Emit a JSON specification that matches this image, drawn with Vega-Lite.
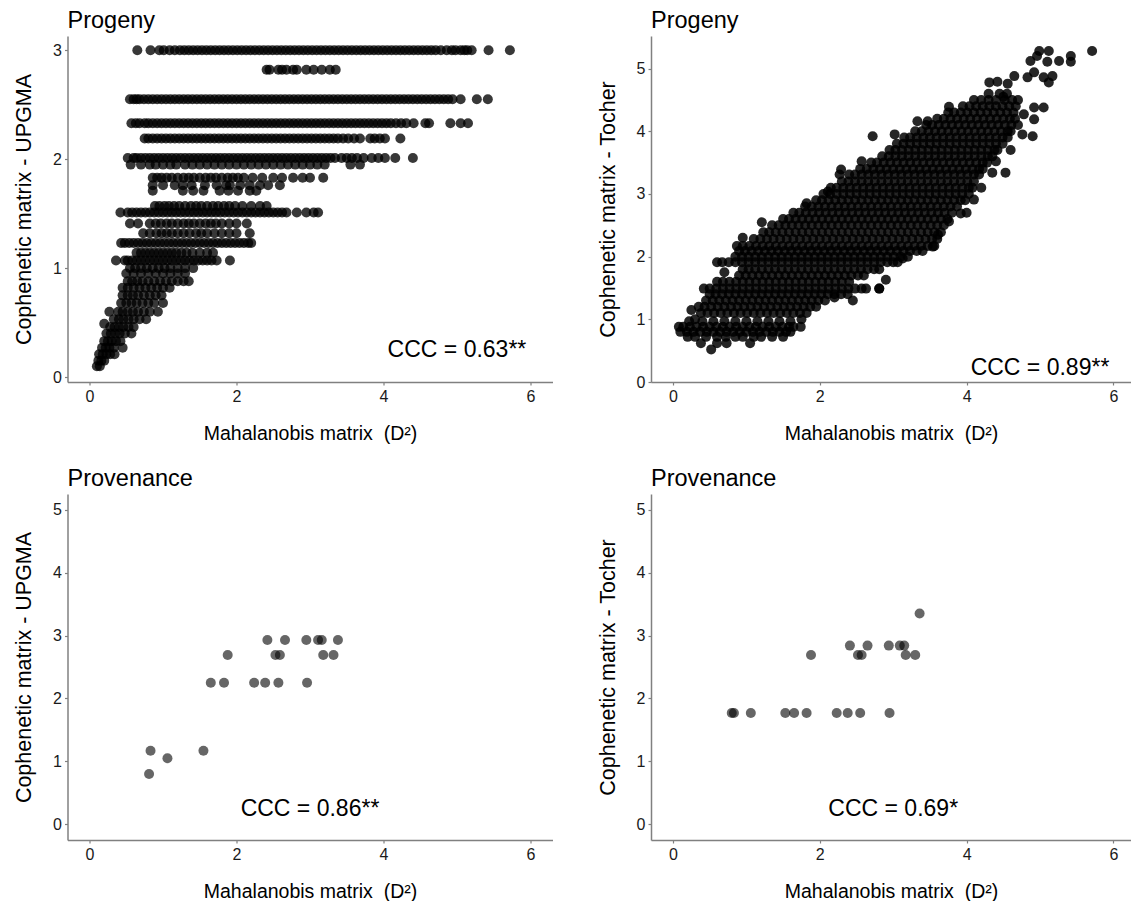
{
"$schema": "https://vega.github.io/schema/vega-lite/v6.json",
"background": "white",
"padding": {"left": 13.5, "top": 8, "right": 0, "bottom": 0},
"config": {
 "view": {"stroke": null},
 "font": "Liberation Sans",
 "axis": {"grid": false, "format": "d", "domainColor": "#808080", "domainWidth": 1.5, "tickColor": "#808080", "tickSize": 3, "tickWidth": 1.2, "labelFont": "Liberation Sans", "labelFontSize": 16, "labelColor": "#1a1a1a", "labelPadding": 3, "labelFlush": false, "labelOverlap": false, "titleFont": "Liberation Sans", "titleFontWeight": "normal", "titleColor": "black"},
 "axisX": {"titleFontSize": 19.5, "titlePadding": 20},
 "axisY": {"titleFontSize": 21.5, "titlePadding": 17},
 "title": {"font": "Liberation Sans", "fontSize": 23.5, "fontWeight": "normal", "anchor": "start", "frame": "group", "color": "black", "offset": 4, "baseline": "alphabetic"},
 "circle": {"size": 100, "color": "black", "opacity": 0.6},
 "text": {"font": "Liberation Sans", "fontSize": 23, "color": "black", "align": "center", "baseline": "middle"}
},
"datasets": {
"p1": [
{"x":0.65,"y":3},{"x":0.83,"y":3},{"x":0.95,"y":3},{"x":1.01,"y":3},{"x":1.09,"y":3},{"x":1.16,"y":3},{"x":1.23,"y":3},{"x":1.29,"y":3},{"x":1.35,"y":3},{"x":1.41,"y":3},{"x":1.47,"y":3},{"x":1.53,"y":3},{"x":1.59,"y":3},{"x":1.65,"y":3},{"x":1.71,"y":3},{"x":1.77,"y":3},{"x":1.83,"y":3},{"x":1.89,"y":3},{"x":1.95,"y":3},{"x":2.01,"y":3},{"x":2.07,"y":3},{"x":2.13,"y":3},{"x":2.19,"y":3},{"x":2.25,"y":3},{"x":2.31,"y":3},{"x":2.37,"y":3},{"x":2.43,"y":3},{"x":2.49,"y":3},{"x":2.55,"y":3},{"x":2.61,"y":3},{"x":2.67,"y":3},{"x":2.73,"y":3},{"x":2.79,"y":3},{"x":2.85,"y":3},{"x":2.91,"y":3},{"x":2.97,"y":3},{"x":3.03,"y":3},{"x":3.09,"y":3},{"x":3.15,"y":3},{"x":3.21,"y":3},{"x":3.27,"y":3},{"x":3.33,"y":3},{"x":3.39,"y":3},{"x":3.45,"y":3},{"x":3.51,"y":3},{"x":3.57,"y":3},{"x":3.63,"y":3},{"x":3.69,"y":3},{"x":3.75,"y":3},{"x":3.81,"y":3},{"x":3.87,"y":3},{"x":3.93,"y":3},{"x":3.99,"y":3},{"x":4.05,"y":3},{"x":4.11,"y":3},{"x":4.17,"y":3},{"x":4.23,"y":3},{"x":4.29,"y":3},{"x":4.35,"y":3},{"x":4.41,"y":3},{"x":4.47,"y":3},{"x":4.53,"y":3},{"x":4.59,"y":3},{"x":4.65,"y":3},{"x":4.71,"y":3},{"x":4.78,"y":3},{"x":4.86,"y":3},{"x":4.93,"y":3},{"x":4.98,"y":3},{"x":5.05,"y":3},{"x":5.1,"y":3},{"x":5.14,"y":3},{"x":5.2,"y":3},{"x":5.43,"y":3},{"x":5.72,"y":3},
{"x":2.41,"y":2.82},{"x":2.45,"y":2.82},{"x":2.57,"y":2.82},{"x":2.62,"y":2.82},{"x":2.68,"y":2.82},{"x":2.77,"y":2.82},{"x":2.82,"y":2.82},{"x":2.95,"y":2.82},{"x":3.05,"y":2.82},{"x":3.16,"y":2.82},{"x":3.27,"y":2.82},{"x":3.35,"y":2.82},
{"x":0.55,"y":2.55},{"x":0.6,"y":2.55},{"x":0.64,"y":2.55},{"x":0.68,"y":2.55},{"x":0.74,"y":2.55},{"x":0.8,"y":2.55},{"x":0.86,"y":2.55},{"x":0.92,"y":2.55},{"x":0.98,"y":2.55},{"x":1.04,"y":2.55},{"x":1.1,"y":2.55},{"x":1.16,"y":2.55},{"x":1.22,"y":2.55},{"x":1.28,"y":2.55},{"x":1.34,"y":2.55},{"x":1.4,"y":2.55},{"x":1.46,"y":2.55},{"x":1.52,"y":2.55},{"x":1.58,"y":2.55},{"x":1.64,"y":2.55},{"x":1.7,"y":2.55},{"x":1.76,"y":2.55},{"x":1.82,"y":2.55},{"x":1.88,"y":2.55},{"x":1.94,"y":2.55},{"x":2,"y":2.55},{"x":2.06,"y":2.55},{"x":2.12,"y":2.55},{"x":2.18,"y":2.55},{"x":2.24,"y":2.55},{"x":2.3,"y":2.55},{"x":2.36,"y":2.55},{"x":2.42,"y":2.55},{"x":2.48,"y":2.55},{"x":2.54,"y":2.55},{"x":2.6,"y":2.55},{"x":2.66,"y":2.55},{"x":2.72,"y":2.55},{"x":2.78,"y":2.55},{"x":2.84,"y":2.55},{"x":2.9,"y":2.55},{"x":2.96,"y":2.55},{"x":3.02,"y":2.55},{"x":3.08,"y":2.55},{"x":3.14,"y":2.55},{"x":3.2,"y":2.55},{"x":3.26,"y":2.55},{"x":3.32,"y":2.55},{"x":3.38,"y":2.55},{"x":3.44,"y":2.55},{"x":3.5,"y":2.55},{"x":3.56,"y":2.55},{"x":3.62,"y":2.55},{"x":3.68,"y":2.55},{"x":3.74,"y":2.55},{"x":3.8,"y":2.55},{"x":3.86,"y":2.55},{"x":3.92,"y":2.55},{"x":3.98,"y":2.55},{"x":4.04,"y":2.55},{"x":4.1,"y":2.55},{"x":4.16,"y":2.55},{"x":4.22,"y":2.55},{"x":4.28,"y":2.55},{"x":4.34,"y":2.55},{"x":4.4,"y":2.55},{"x":4.46,"y":2.55},{"x":4.52,"y":2.55},{"x":4.58,"y":2.55},{"x":4.64,"y":2.55},{"x":4.7,"y":2.55},{"x":4.76,"y":2.55},{"x":4.82,"y":2.55},{"x":4.88,"y":2.55},{"x":4.94,"y":2.55},{"x":5.05,"y":2.55},{"x":5.27,"y":2.55},{"x":5.42,"y":2.55},
{"x":0.57,"y":2.33},{"x":0.63,"y":2.33},{"x":0.68,"y":2.33},{"x":0.75,"y":2.33},{"x":0.8,"y":2.33},{"x":0.86,"y":2.33},{"x":0.92,"y":2.33},{"x":0.98,"y":2.33},{"x":1.04,"y":2.33},{"x":1.1,"y":2.33},{"x":1.16,"y":2.33},{"x":1.22,"y":2.33},{"x":1.28,"y":2.33},{"x":1.34,"y":2.33},{"x":1.4,"y":2.33},{"x":1.46,"y":2.33},{"x":1.52,"y":2.33},{"x":1.58,"y":2.33},{"x":1.64,"y":2.33},{"x":1.7,"y":2.33},{"x":1.76,"y":2.33},{"x":1.82,"y":2.33},{"x":1.88,"y":2.33},{"x":1.94,"y":2.33},{"x":2,"y":2.33},{"x":2.06,"y":2.33},{"x":2.12,"y":2.33},{"x":2.18,"y":2.33},{"x":2.24,"y":2.33},{"x":2.3,"y":2.33},{"x":2.36,"y":2.33},{"x":2.42,"y":2.33},{"x":2.48,"y":2.33},{"x":2.54,"y":2.33},{"x":2.6,"y":2.33},{"x":2.66,"y":2.33},{"x":2.72,"y":2.33},{"x":2.78,"y":2.33},{"x":2.84,"y":2.33},{"x":2.9,"y":2.33},{"x":2.96,"y":2.33},{"x":3.02,"y":2.33},{"x":3.08,"y":2.33},{"x":3.14,"y":2.33},{"x":3.2,"y":2.33},{"x":3.26,"y":2.33},{"x":3.32,"y":2.33},{"x":3.38,"y":2.33},{"x":3.44,"y":2.33},{"x":3.5,"y":2.33},{"x":3.56,"y":2.33},{"x":3.62,"y":2.33},{"x":3.68,"y":2.33},{"x":3.74,"y":2.33},{"x":3.8,"y":2.33},{"x":3.86,"y":2.33},{"x":3.92,"y":2.33},{"x":3.98,"y":2.33},{"x":4.04,"y":2.33},{"x":4.1,"y":2.33},{"x":4.17,"y":2.33},{"x":4.24,"y":2.33},{"x":4.31,"y":2.33},{"x":4.41,"y":2.33},{"x":4.57,"y":2.33},{"x":4.62,"y":2.33},{"x":4.91,"y":2.33},{"x":5.05,"y":2.33},{"x":5.15,"y":2.33},
{"x":0.75,"y":2.19},{"x":0.8,"y":2.19},{"x":0.86,"y":2.19},{"x":0.92,"y":2.19},{"x":0.98,"y":2.19},{"x":1.04,"y":2.19},{"x":1.1,"y":2.19},{"x":1.16,"y":2.19},{"x":1.22,"y":2.19},{"x":1.28,"y":2.19},{"x":1.34,"y":2.19},{"x":1.4,"y":2.19},{"x":1.46,"y":2.19},{"x":1.52,"y":2.19},{"x":1.58,"y":2.19},{"x":1.64,"y":2.19},{"x":1.7,"y":2.19},{"x":1.76,"y":2.19},{"x":1.82,"y":2.19},{"x":1.88,"y":2.19},{"x":1.94,"y":2.19},{"x":2,"y":2.19},{"x":2.06,"y":2.19},{"x":2.12,"y":2.19},{"x":2.18,"y":2.19},{"x":2.24,"y":2.19},{"x":2.3,"y":2.19},{"x":2.36,"y":2.19},{"x":2.42,"y":2.19},{"x":2.48,"y":2.19},{"x":2.54,"y":2.19},{"x":2.6,"y":2.19},{"x":2.66,"y":2.19},{"x":2.72,"y":2.19},{"x":2.78,"y":2.19},{"x":2.84,"y":2.19},{"x":2.9,"y":2.19},{"x":2.96,"y":2.19},{"x":3.02,"y":2.19},{"x":3.08,"y":2.19},{"x":3.14,"y":2.19},{"x":3.2,"y":2.19},{"x":3.26,"y":2.19},{"x":3.32,"y":2.19},{"x":3.38,"y":2.19},{"x":3.45,"y":2.19},{"x":3.52,"y":2.19},{"x":3.6,"y":2.19},{"x":3.68,"y":2.19},{"x":3.82,"y":2.19},{"x":3.88,"y":2.19},{"x":3.95,"y":2.19},{"x":4.02,"y":2.19},{"x":4.23,"y":2.19},
{"x":0.52,"y":2.01},{"x":0.6,"y":2.01},{"x":0.64,"y":2.01},{"x":0.7,"y":2.01},{"x":0.76,"y":2.01},{"x":0.82,"y":2.01},{"x":0.88,"y":2.01},{"x":0.94,"y":2.01},{"x":1,"y":2.01},{"x":1.06,"y":2.01},{"x":1.12,"y":2.01},{"x":1.18,"y":2.01},{"x":1.24,"y":2.01},{"x":1.3,"y":2.01},{"x":1.36,"y":2.01},{"x":1.42,"y":2.01},{"x":1.48,"y":2.01},{"x":1.54,"y":2.01},{"x":1.6,"y":2.01},{"x":1.66,"y":2.01},{"x":1.72,"y":2.01},{"x":1.78,"y":2.01},{"x":1.84,"y":2.01},{"x":1.9,"y":2.01},{"x":1.96,"y":2.01},{"x":2.02,"y":2.01},{"x":2.08,"y":2.01},{"x":2.14,"y":2.01},{"x":2.2,"y":2.01},{"x":2.26,"y":2.01},{"x":2.32,"y":2.01},{"x":2.38,"y":2.01},{"x":2.44,"y":2.01},{"x":2.5,"y":2.01},{"x":2.56,"y":2.01},{"x":2.62,"y":2.01},{"x":2.68,"y":2.01},{"x":2.74,"y":2.01},{"x":2.8,"y":2.01},{"x":2.86,"y":2.01},{"x":2.92,"y":2.01},{"x":2.98,"y":2.01},{"x":3.04,"y":2.01},{"x":3.1,"y":2.01},{"x":3.16,"y":2.01},{"x":3.22,"y":2.01},{"x":3.28,"y":2.01},{"x":3.34,"y":2.01},{"x":3.43,"y":2.01},{"x":3.5,"y":2.01},{"x":3.57,"y":2.01},{"x":3.64,"y":2.01},{"x":3.73,"y":2.01},{"x":3.84,"y":2.01},{"x":3.93,"y":2.01},{"x":4.02,"y":2.01},{"x":4.16,"y":2.01},{"x":4.4,"y":2.01},
{"x":0.56,"y":1.95},{"x":0.7,"y":1.95},{"x":0.82,"y":1.95},{"x":0.9,"y":1.95},{"x":1,"y":1.95},{"x":1.1,"y":1.95},{"x":1.18,"y":1.95},{"x":1.3,"y":1.95},{"x":1.4,"y":1.95},{"x":1.5,"y":1.95},{"x":1.6,"y":1.95},{"x":1.7,"y":1.95},{"x":1.8,"y":1.95},{"x":1.9,"y":1.95},{"x":2,"y":1.95},{"x":2.1,"y":1.95},{"x":2.2,"y":1.95},{"x":2.3,"y":1.95},{"x":2.4,"y":1.95},{"x":2.5,"y":1.95},{"x":2.6,"y":1.95},{"x":2.7,"y":1.95},{"x":2.8,"y":1.95},{"x":2.9,"y":1.95},{"x":3,"y":1.95},{"x":3.1,"y":1.95},{"x":3.2,"y":1.95},{"x":3.55,"y":1.95},{"x":3.68,"y":1.95},
{"x":0.86,"y":1.83},{"x":0.92,"y":1.83},{"x":0.98,"y":1.83},{"x":1.05,"y":1.83},{"x":1.12,"y":1.83},{"x":1.2,"y":1.83},{"x":1.28,"y":1.83},{"x":1.35,"y":1.83},{"x":1.42,"y":1.83},{"x":1.5,"y":1.83},{"x":1.58,"y":1.83},{"x":1.65,"y":1.83},{"x":1.72,"y":1.83},{"x":1.8,"y":1.83},{"x":1.88,"y":1.83},{"x":1.95,"y":1.83},{"x":2.02,"y":1.83},{"x":2.1,"y":1.83},{"x":2.22,"y":1.83},{"x":2.35,"y":1.83},{"x":2.5,"y":1.83},{"x":2.62,"y":1.83},{"x":2.77,"y":1.83},{"x":2.9,"y":1.83},{"x":3,"y":1.83},{"x":3.18,"y":1.83},
{"x":0.86,"y":1.76},{"x":1,"y":1.76},{"x":1.16,"y":1.76},{"x":1.27,"y":1.76},{"x":1.39,"y":1.76},{"x":1.57,"y":1.76},{"x":1.73,"y":1.76},{"x":1.86,"y":1.76},{"x":1.91,"y":1.76},{"x":2.05,"y":1.76},{"x":2.18,"y":1.76},{"x":2.32,"y":1.76},{"x":2.43,"y":1.76},{"x":2.59,"y":1.76},
{"x":0.86,"y":1.71},{"x":1.27,"y":1.71},{"x":1.41,"y":1.71},{"x":1.55,"y":1.71},{"x":1.77,"y":1.71},{"x":1.89,"y":1.71},{"x":2.02,"y":1.71},{"x":2.18,"y":1.71},{"x":2.27,"y":1.71},
{"x":0.89,"y":1.57},{"x":0.95,"y":1.57},{"x":1.02,"y":1.57},{"x":1.08,"y":1.57},{"x":1.15,"y":1.57},{"x":1.22,"y":1.57},{"x":1.3,"y":1.57},{"x":1.38,"y":1.57},{"x":1.45,"y":1.57},{"x":1.52,"y":1.57},{"x":1.6,"y":1.57},{"x":1.68,"y":1.57},{"x":1.75,"y":1.57},{"x":1.83,"y":1.57},{"x":1.9,"y":1.57},{"x":1.98,"y":1.57},{"x":2.08,"y":1.57},{"x":2.2,"y":1.57},{"x":2.32,"y":1.57},{"x":2.41,"y":1.57},
{"x":0.42,"y":1.51},{"x":0.52,"y":1.51},{"x":0.58,"y":1.51},{"x":0.64,"y":1.51},{"x":0.7,"y":1.51},{"x":0.76,"y":1.51},{"x":0.82,"y":1.51},{"x":0.88,"y":1.51},{"x":0.94,"y":1.51},{"x":1,"y":1.51},{"x":1.06,"y":1.51},{"x":1.12,"y":1.51},{"x":1.18,"y":1.51},{"x":1.24,"y":1.51},{"x":1.3,"y":1.51},{"x":1.36,"y":1.51},{"x":1.42,"y":1.51},{"x":1.48,"y":1.51},{"x":1.54,"y":1.51},{"x":1.6,"y":1.51},{"x":1.66,"y":1.51},{"x":1.72,"y":1.51},{"x":1.78,"y":1.51},{"x":1.84,"y":1.51},{"x":1.9,"y":1.51},{"x":1.96,"y":1.51},{"x":2.02,"y":1.51},{"x":2.08,"y":1.51},{"x":2.14,"y":1.51},{"x":2.2,"y":1.51},{"x":2.26,"y":1.51},{"x":2.32,"y":1.51},{"x":2.38,"y":1.51},{"x":2.44,"y":1.51},{"x":2.5,"y":1.51},{"x":2.56,"y":1.51},{"x":2.62,"y":1.51},{"x":2.68,"y":1.51},{"x":2.82,"y":1.51},{"x":2.95,"y":1.51},{"x":3.05,"y":1.51},{"x":3.11,"y":1.51},
{"x":0.55,"y":1.41},{"x":0.66,"y":1.41},{"x":0.82,"y":1.41},{"x":0.9,"y":1.41},{"x":0.97,"y":1.41},{"x":1.05,"y":1.41},{"x":1.12,"y":1.41},{"x":1.2,"y":1.41},{"x":1.28,"y":1.41},{"x":1.35,"y":1.41},{"x":1.42,"y":1.41},{"x":1.5,"y":1.41},{"x":1.58,"y":1.41},{"x":1.65,"y":1.41},{"x":1.72,"y":1.41},{"x":1.8,"y":1.41},{"x":1.9,"y":1.41},{"x":2,"y":1.41},{"x":2.14,"y":1.41},
{"x":0.73,"y":1.32},{"x":0.82,"y":1.32},{"x":0.91,"y":1.32},{"x":0.98,"y":1.32},{"x":1.05,"y":1.32},{"x":1.12,"y":1.32},{"x":1.2,"y":1.32},{"x":1.28,"y":1.32},{"x":1.36,"y":1.32},{"x":1.45,"y":1.32},{"x":1.52,"y":1.32},{"x":1.6,"y":1.32},{"x":1.7,"y":1.32},{"x":1.8,"y":1.32},{"x":1.9,"y":1.32},{"x":2,"y":1.32},{"x":2.18,"y":1.32},
{"x":0.43,"y":1.23},{"x":0.48,"y":1.23},{"x":0.54,"y":1.23},{"x":0.6,"y":1.23},{"x":0.66,"y":1.23},{"x":0.72,"y":1.23},{"x":0.78,"y":1.23},{"x":0.84,"y":1.23},{"x":0.9,"y":1.23},{"x":0.96,"y":1.23},{"x":1.02,"y":1.23},{"x":1.08,"y":1.23},{"x":1.14,"y":1.23},{"x":1.2,"y":1.23},{"x":1.26,"y":1.23},{"x":1.32,"y":1.23},{"x":1.38,"y":1.23},{"x":1.44,"y":1.23},{"x":1.5,"y":1.23},{"x":1.56,"y":1.23},{"x":1.62,"y":1.23},{"x":1.68,"y":1.23},{"x":1.74,"y":1.23},{"x":1.8,"y":1.23},{"x":1.86,"y":1.23},{"x":1.92,"y":1.23},{"x":1.98,"y":1.23},{"x":2.04,"y":1.23},{"x":2.1,"y":1.23},{"x":2.16,"y":1.23},{"x":2.2,"y":1.23},
{"x":0.64,"y":1.14},{"x":0.7,"y":1.14},{"x":0.76,"y":1.14},{"x":0.82,"y":1.14},{"x":0.88,"y":1.14},{"x":0.94,"y":1.14},{"x":1,"y":1.14},{"x":1.06,"y":1.14},{"x":1.12,"y":1.14},{"x":1.18,"y":1.14},{"x":1.25,"y":1.14},{"x":1.32,"y":1.14},{"x":1.4,"y":1.14},{"x":1.5,"y":1.14},{"x":1.6,"y":1.14},{"x":1.68,"y":1.14},
{"x":0.36,"y":1.07},{"x":0.48,"y":1.07},{"x":0.52,"y":1.07},{"x":0.58,"y":1.07},{"x":0.64,"y":1.07},{"x":0.7,"y":1.07},{"x":0.76,"y":1.07},{"x":0.82,"y":1.07},{"x":0.88,"y":1.07},{"x":0.94,"y":1.07},{"x":1,"y":1.07},{"x":1.06,"y":1.07},{"x":1.12,"y":1.07},{"x":1.18,"y":1.07},{"x":1.24,"y":1.07},{"x":1.3,"y":1.07},{"x":1.36,"y":1.07},{"x":1.42,"y":1.07},{"x":1.48,"y":1.07},{"x":1.54,"y":1.07},{"x":1.6,"y":1.07},{"x":1.66,"y":1.07},{"x":1.73,"y":1.07},{"x":1.91,"y":1.07},
{"x":0.55,"y":1},{"x":0.62,"y":1},{"x":0.7,"y":1},{"x":0.78,"y":1},{"x":0.86,"y":1},{"x":0.94,"y":1},{"x":1.02,"y":1},{"x":1.1,"y":1},{"x":1.2,"y":1},{"x":1.3,"y":1},{"x":1.41,"y":1},
{"x":0.5,"y":0.95},{"x":0.6,"y":0.95},{"x":0.7,"y":0.95},{"x":0.8,"y":0.95},{"x":0.9,"y":0.95},{"x":1,"y":0.95},{"x":1.1,"y":0.95},{"x":1.2,"y":0.95},{"x":1.3,"y":0.95},
{"x":0.52,"y":0.88},{"x":0.58,"y":0.88},{"x":0.65,"y":0.88},{"x":0.72,"y":0.88},{"x":0.8,"y":0.88},{"x":0.88,"y":0.88},{"x":0.96,"y":0.88},{"x":1.04,"y":0.88},{"x":1.12,"y":0.88},{"x":1.2,"y":0.88},{"x":1.28,"y":0.88},{"x":1.35,"y":0.88},
{"x":0.45,"y":0.82},{"x":0.52,"y":0.82},{"x":0.6,"y":0.82},{"x":0.68,"y":0.82},{"x":0.76,"y":0.82},{"x":0.84,"y":0.82},{"x":0.92,"y":0.82},{"x":1,"y":0.82},{"x":1.09,"y":0.82},
{"x":0.45,"y":0.75},{"x":0.52,"y":0.75},{"x":0.59,"y":0.75},{"x":0.66,"y":0.75},{"x":0.74,"y":0.75},{"x":0.82,"y":0.75},{"x":0.9,"y":0.75},{"x":0.98,"y":0.75},
{"x":0.43,"y":0.68},{"x":0.5,"y":0.68},{"x":0.57,"y":0.68},{"x":0.64,"y":0.68},{"x":0.72,"y":0.68},{"x":0.8,"y":0.68},{"x":0.88,"y":0.68},{"x":1,"y":0.68},
{"x":0.27,"y":0.6},{"x":0.39,"y":0.6},{"x":0.45,"y":0.6},{"x":0.52,"y":0.6},{"x":0.59,"y":0.6},{"x":0.66,"y":0.6},{"x":0.74,"y":0.6},{"x":0.82,"y":0.6},{"x":0.93,"y":0.6},
{"x":0.33,"y":0.53},{"x":0.4,"y":0.53},{"x":0.46,"y":0.53},{"x":0.53,"y":0.53},{"x":0.6,"y":0.53},{"x":0.68,"y":0.53},{"x":0.77,"y":0.53},
{"x":0.2,"y":0.49},{"x":0.28,"y":0.46},{"x":0.34,"y":0.46},{"x":0.4,"y":0.46},{"x":0.46,"y":0.46},{"x":0.53,"y":0.46},{"x":0.6,"y":0.46},
{"x":0.23,"y":0.4},{"x":0.29,"y":0.4},{"x":0.35,"y":0.4},{"x":0.41,"y":0.4},{"x":0.48,"y":0.4},{"x":0.57,"y":0.4},
{"x":0.2,"y":0.33},{"x":0.25,"y":0.33},{"x":0.3,"y":0.33},{"x":0.36,"y":0.33},{"x":0.42,"y":0.33},
{"x":0.17,"y":0.27},{"x":0.22,"y":0.27},{"x":0.27,"y":0.27},{"x":0.33,"y":0.27},{"x":0.45,"y":0.27},
{"x":0.13,"y":0.21},{"x":0.18,"y":0.21},{"x":0.23,"y":0.21},{"x":0.28,"y":0.21},{"x":0.34,"y":0.21},
{"x":0.12,"y":0.15},{"x":0.16,"y":0.15},{"x":0.2,"y":0.15},{"x":0.1,"y":0.1},{"x":0.14,"y":0.1}
],
"p2": [
{"x":0.52,"y":0.52},{"x":0.38,"y":0.62},{"x":0.6,"y":0.62},{"x":0.73,"y":0.62},{"x":1.05,"y":0.62},
{"x":0.2,"y":0.72},{"x":0.3,"y":0.72},{"x":0.45,"y":0.72},{"x":0.6,"y":0.72},{"x":0.72,"y":0.72},{"x":0.85,"y":0.72},{"x":0.95,"y":0.72},{"x":1.1,"y":0.72},{"x":1.2,"y":0.72},{"x":1.35,"y":0.72},{"x":1.5,"y":0.72},
{"x":0.1,"y":0.8},{"x":0.19,"y":0.8},{"x":0.28,"y":0.8},{"x":0.37,"y":0.8},{"x":0.46,"y":0.8},{"x":0.55,"y":0.8},{"x":0.64,"y":0.8},{"x":0.73,"y":0.8},{"x":0.82,"y":0.8},{"x":0.91,"y":0.8},{"x":1,"y":0.8},{"x":1.09,"y":0.8},{"x":1.18,"y":0.8},{"x":1.27,"y":0.8},{"x":1.36,"y":0.8},{"x":1.45,"y":0.8},{"x":1.54,"y":0.8},{"x":1.6,"y":0.8},
{"x":0.08,"y":0.88},{"x":0.14,"y":0.88},{"x":0.23,"y":0.88},{"x":0.32,"y":0.88},{"x":0.41,"y":0.88},{"x":0.5,"y":0.88},{"x":0.59,"y":0.88},{"x":0.68,"y":0.88},{"x":0.77,"y":0.88},{"x":0.86,"y":0.88},{"x":0.95,"y":0.88},{"x":1.04,"y":0.88},{"x":1.13,"y":0.88},{"x":1.22,"y":0.88},{"x":1.31,"y":0.88},{"x":1.4,"y":0.88},{"x":1.49,"y":0.88},{"x":1.58,"y":0.88},{"x":1.64,"y":0.88},{"x":1.74,"y":0.88},
{"x":0.22,"y":0.97},{"x":0.4,"y":0.97},{"x":0.55,"y":0.97},{"x":0.7,"y":0.97},{"x":0.85,"y":0.97},{"x":1,"y":0.97},{"x":1.15,"y":0.97},{"x":1.3,"y":0.97},{"x":1.45,"y":0.97},{"x":1.6,"y":0.97},
{"x":0.25,"y":1.15},{"x":0.3,"y":1.0},
{"x":0.38,"y":1.1},{"x":0.47,"y":1.1},{"x":0.56,"y":1.1},{"x":0.65,"y":1.1},{"x":0.74,"y":1.1},{"x":0.83,"y":1.1},{"x":0.92,"y":1.1},{"x":1.01,"y":1.1},{"x":1.1,"y":1.1},{"x":1.19,"y":1.1},{"x":1.28,"y":1.1},{"x":1.37,"y":1.1},{"x":1.46,"y":1.1},{"x":1.55,"y":1.1},{"x":1.64,"y":1.1},{"x":1.73,"y":1.1},{"x":1.82,"y":1.1},
{"x":0.35,"y":1.2},{"x":0.43,"y":1.2},{"x":0.52,"y":1.2},{"x":0.61,"y":1.2},{"x":0.7,"y":1.2},{"x":0.79,"y":1.2},{"x":0.88,"y":1.2},{"x":0.97,"y":1.2},{"x":1.06,"y":1.2},{"x":1.15,"y":1.2},{"x":1.24,"y":1.2},{"x":1.33,"y":1.2},{"x":1.42,"y":1.2},{"x":1.51,"y":1.2},{"x":1.6,"y":1.2},{"x":1.69,"y":1.2},{"x":1.78,"y":1.2},{"x":1.87,"y":1.2},{"x":1.95,"y":1.2},
{"x":0.45,"y":1.3},{"x":0.54,"y":1.3},{"x":0.63,"y":1.3},{"x":0.72,"y":1.3},{"x":0.81,"y":1.3},{"x":0.9,"y":1.3},{"x":0.99,"y":1.3},{"x":1.08,"y":1.3},{"x":1.17,"y":1.3},{"x":1.26,"y":1.3},{"x":1.35,"y":1.3},{"x":1.44,"y":1.3},{"x":1.53,"y":1.3},{"x":1.62,"y":1.3},{"x":1.71,"y":1.3},{"x":1.8,"y":1.3},{"x":1.89,"y":1.3},{"x":1.98,"y":1.3},{"x":2.07,"y":1.3},{"x":2.2,"y":1.35},{"x":2.45,"y":1.3},
{"x":0.5,"y":1.4},{"x":0.58,"y":1.4},{"x":0.67,"y":1.4},{"x":0.76,"y":1.4},{"x":0.85,"y":1.4},{"x":0.94,"y":1.4},{"x":1.03,"y":1.4},{"x":1.12,"y":1.4},{"x":1.21,"y":1.4},{"x":1.3,"y":1.4},{"x":1.39,"y":1.4},{"x":1.48,"y":1.4},{"x":1.57,"y":1.4},{"x":1.66,"y":1.4},{"x":1.75,"y":1.4},{"x":1.84,"y":1.4},{"x":1.93,"y":1.4},{"x":2.02,"y":1.4},{"x":2.11,"y":1.4},{"x":2.2,"y":1.4},{"x":2.29,"y":1.4},{"x":2.38,"y":1.4},
{"x":0.42,"y":1.49},{"x":0.5,"y":1.49},{"x":0.59,"y":1.49},{"x":0.68,"y":1.49},{"x":0.77,"y":1.49},{"x":0.86,"y":1.49},{"x":0.95,"y":1.49},{"x":1.04,"y":1.49},{"x":1.13,"y":1.49},{"x":1.22,"y":1.49},{"x":1.31,"y":1.49},{"x":1.4,"y":1.49},{"x":1.49,"y":1.49},{"x":1.58,"y":1.49},{"x":1.67,"y":1.49},{"x":1.76,"y":1.49},{"x":1.85,"y":1.49},{"x":1.94,"y":1.49},{"x":2.03,"y":1.49},{"x":2.12,"y":1.49},{"x":2.21,"y":1.49},{"x":2.3,"y":1.49},{"x":2.39,"y":1.49},{"x":2.48,"y":1.49},{"x":2.57,"y":1.49},{"x":2.63,"y":1.49},{"x":2.81,"y":1.49},
{"x":0.6,"y":1.6},{"x":0.68,"y":1.6},{"x":0.77,"y":1.6},{"x":0.86,"y":1.6},{"x":0.95,"y":1.6},{"x":1.04,"y":1.6},{"x":1.13,"y":1.6},{"x":1.22,"y":1.6},{"x":1.31,"y":1.6},{"x":1.4,"y":1.6},{"x":1.49,"y":1.6},{"x":1.58,"y":1.6},{"x":1.67,"y":1.6},{"x":1.76,"y":1.6},{"x":1.85,"y":1.6},{"x":1.94,"y":1.6},{"x":2.03,"y":1.6},{"x":2.12,"y":1.6},{"x":2.21,"y":1.6},{"x":2.3,"y":1.6},{"x":2.4,"y":1.6},{"x":2.9,"y":1.63},
{"x":0.7,"y":1.75},{"x":0.9,"y":1.7},{"x":0.99,"y":1.7},{"x":1.08,"y":1.7},{"x":1.17,"y":1.7},{"x":1.26,"y":1.7},{"x":1.35,"y":1.7},{"x":1.44,"y":1.7},{"x":1.53,"y":1.7},{"x":1.62,"y":1.7},{"x":1.71,"y":1.7},{"x":1.8,"y":1.7},{"x":1.89,"y":1.7},{"x":1.98,"y":1.7},{"x":2.07,"y":1.7},{"x":2.16,"y":1.7},{"x":2.25,"y":1.7},{"x":2.34,"y":1.7},{"x":2.43,"y":1.7},{"x":2.52,"y":1.7},{"x":2.6,"y":1.7},
{"x":0.95,"y":1.8},{"x":1.03,"y":1.8},{"x":1.12,"y":1.8},{"x":1.21,"y":1.8},{"x":1.3,"y":1.8},{"x":1.39,"y":1.8},{"x":1.48,"y":1.8},{"x":1.57,"y":1.8},{"x":1.66,"y":1.8},{"x":1.75,"y":1.8},{"x":1.84,"y":1.8},{"x":1.93,"y":1.8},{"x":2.02,"y":1.8},{"x":2.11,"y":1.8},{"x":2.2,"y":1.8},{"x":2.29,"y":1.8},{"x":2.38,"y":1.8},{"x":2.47,"y":1.8},{"x":2.56,"y":1.8},{"x":2.65,"y":1.8},{"x":2.74,"y":1.8},{"x":2.81,"y":1.8},
{"x":0.6,"y":1.91},{"x":0.67,"y":1.91},{"x":0.76,"y":1.91},{"x":0.85,"y":1.91},{"x":0.94,"y":1.91},{"x":1.03,"y":1.91},{"x":1.12,"y":1.91},{"x":1.21,"y":1.91},{"x":1.3,"y":1.91},{"x":1.39,"y":1.91},{"x":1.48,"y":1.91},{"x":1.57,"y":1.91},{"x":1.66,"y":1.91},{"x":1.75,"y":1.91},{"x":1.84,"y":1.91},{"x":1.93,"y":1.91},{"x":2.02,"y":1.91},{"x":2.11,"y":1.91},{"x":2.2,"y":1.91},{"x":2.29,"y":1.91},{"x":2.38,"y":1.91},{"x":2.47,"y":1.91},{"x":2.56,"y":1.91},{"x":2.65,"y":1.91},{"x":2.74,"y":1.91},{"x":2.83,"y":1.91},{"x":2.92,"y":1.91},{"x":3,"y":1.91},{"x":3.06,"y":1.91},{"x":3.13,"y":1.97},
{"x":0.85,"y":2},{"x":0.94,"y":2},{"x":1.03,"y":2},{"x":1.12,"y":2},{"x":1.21,"y":2},{"x":1.3,"y":2},{"x":1.39,"y":2},{"x":1.48,"y":2},{"x":1.57,"y":2},{"x":1.66,"y":2},{"x":1.75,"y":2},{"x":1.84,"y":2},{"x":1.93,"y":2},{"x":2.02,"y":2},{"x":2.11,"y":2},{"x":2.2,"y":2},{"x":2.29,"y":2},{"x":2.38,"y":2},{"x":2.47,"y":2},{"x":2.56,"y":2},{"x":2.65,"y":2},{"x":2.74,"y":2},{"x":2.83,"y":2},{"x":2.92,"y":2},{"x":3.01,"y":2},{"x":3.1,"y":2},{"x":3.2,"y":2},
{"x":0.9,"y":2.09},{"x":0.98,"y":2.09},{"x":1.07,"y":2.09},{"x":1.16,"y":2.09},{"x":1.25,"y":2.09},{"x":1.34,"y":2.09},{"x":1.43,"y":2.09},{"x":1.52,"y":2.09},{"x":1.61,"y":2.09},{"x":1.7,"y":2.09},{"x":1.79,"y":2.09},{"x":1.88,"y":2.09},{"x":1.97,"y":2.09},{"x":2.06,"y":2.09},{"x":2.15,"y":2.09},{"x":2.24,"y":2.09},{"x":2.33,"y":2.09},{"x":2.42,"y":2.09},{"x":2.51,"y":2.09},{"x":2.6,"y":2.09},{"x":2.69,"y":2.09},{"x":2.78,"y":2.09},{"x":2.87,"y":2.09},{"x":2.96,"y":2.09},{"x":3.05,"y":2.09},{"x":3.14,"y":2.09},{"x":3.23,"y":2.09},{"x":3.32,"y":2.09},{"x":3.4,"y":2.09},
{"x":0.87,"y":2.17},{"x":0.95,"y":2.17},{"x":1.04,"y":2.17},{"x":1.13,"y":2.17},{"x":1.22,"y":2.17},{"x":1.31,"y":2.17},{"x":1.4,"y":2.17},{"x":1.49,"y":2.17},{"x":1.58,"y":2.17},{"x":1.67,"y":2.17},{"x":1.76,"y":2.17},{"x":1.85,"y":2.17},{"x":1.94,"y":2.17},{"x":2.03,"y":2.17},{"x":2.12,"y":2.17},{"x":2.21,"y":2.17},{"x":2.3,"y":2.17},{"x":2.39,"y":2.17},{"x":2.48,"y":2.17},{"x":2.57,"y":2.17},{"x":2.66,"y":2.17},{"x":2.75,"y":2.17},{"x":2.84,"y":2.17},{"x":2.93,"y":2.17},{"x":3.02,"y":2.17},{"x":3.11,"y":2.17},{"x":3.2,"y":2.17},{"x":3.29,"y":2.17},{"x":3.38,"y":2.17},{"x":3.47,"y":2.17},{"x":3.56,"y":2.17},
{"x":0.95,"y":2.3},{"x":1.1,"y":2.28},{"x":1.19,"y":2.28},{"x":1.28,"y":2.28},{"x":1.37,"y":2.28},{"x":1.46,"y":2.28},{"x":1.55,"y":2.28},{"x":1.64,"y":2.28},{"x":1.73,"y":2.28},{"x":1.82,"y":2.28},{"x":1.91,"y":2.28},{"x":2,"y":2.28},{"x":2.09,"y":2.28},{"x":2.18,"y":2.28},{"x":2.27,"y":2.28},{"x":2.36,"y":2.28},{"x":2.45,"y":2.28},{"x":2.54,"y":2.28},{"x":2.63,"y":2.28},{"x":2.72,"y":2.28},{"x":2.81,"y":2.28},{"x":2.9,"y":2.28},{"x":2.99,"y":2.28},{"x":3.08,"y":2.28},{"x":3.17,"y":2.28},{"x":3.26,"y":2.28},{"x":3.35,"y":2.28},{"x":3.44,"y":2.28},{"x":3.53,"y":2.28},{"x":3.6,"y":2.28},
{"x":1.23,"y":2.39},{"x":1.31,"y":2.39},{"x":1.4,"y":2.39},{"x":1.49,"y":2.39},{"x":1.58,"y":2.39},{"x":1.67,"y":2.39},{"x":1.76,"y":2.39},{"x":1.85,"y":2.39},{"x":1.94,"y":2.39},{"x":2.03,"y":2.39},{"x":2.12,"y":2.39},{"x":2.21,"y":2.39},{"x":2.3,"y":2.39},{"x":2.39,"y":2.39},{"x":2.48,"y":2.39},{"x":2.57,"y":2.39},{"x":2.66,"y":2.39},{"x":2.75,"y":2.39},{"x":2.84,"y":2.39},{"x":2.93,"y":2.39},{"x":3.02,"y":2.39},{"x":3.11,"y":2.39},{"x":3.2,"y":2.39},{"x":3.29,"y":2.39},{"x":3.38,"y":2.39},{"x":3.47,"y":2.39},{"x":3.56,"y":2.39},{"x":3.65,"y":2.39},
{"x":1.21,"y":2.55},{"x":1.35,"y":2.5},{"x":1.44,"y":2.5},{"x":1.53,"y":2.5},{"x":1.62,"y":2.5},{"x":1.71,"y":2.5},{"x":1.8,"y":2.5},{"x":1.89,"y":2.5},{"x":1.98,"y":2.5},{"x":2.07,"y":2.5},{"x":2.16,"y":2.5},{"x":2.25,"y":2.5},{"x":2.34,"y":2.5},{"x":2.43,"y":2.5},{"x":2.52,"y":2.5},{"x":2.61,"y":2.5},{"x":2.7,"y":2.5},{"x":2.79,"y":2.5},{"x":2.88,"y":2.5},{"x":2.97,"y":2.5},{"x":3.06,"y":2.5},{"x":3.15,"y":2.5},{"x":3.24,"y":2.5},{"x":3.33,"y":2.5},{"x":3.42,"y":2.5},{"x":3.51,"y":2.5},{"x":3.6,"y":2.5},{"x":3.69,"y":2.5},
{"x":1.5,"y":2.6},{"x":1.58,"y":2.6},{"x":1.67,"y":2.6},{"x":1.76,"y":2.6},{"x":1.85,"y":2.6},{"x":1.94,"y":2.6},{"x":2.03,"y":2.6},{"x":2.12,"y":2.6},{"x":2.21,"y":2.6},{"x":2.3,"y":2.6},{"x":2.39,"y":2.6},{"x":2.48,"y":2.6},{"x":2.57,"y":2.6},{"x":2.66,"y":2.6},{"x":2.75,"y":2.6},{"x":2.84,"y":2.6},{"x":2.93,"y":2.6},{"x":3.02,"y":2.6},{"x":3.11,"y":2.6},{"x":3.2,"y":2.6},{"x":3.29,"y":2.6},{"x":3.38,"y":2.6},{"x":3.47,"y":2.6},{"x":3.56,"y":2.6},{"x":3.65,"y":2.6},{"x":3.74,"y":2.6},{"x":3.76,"y":2.56},
{"x":1.64,"y":2.7},{"x":1.72,"y":2.7},{"x":1.81,"y":2.7},{"x":1.9,"y":2.7},{"x":1.99,"y":2.7},{"x":2.08,"y":2.7},{"x":2.17,"y":2.7},{"x":2.26,"y":2.7},{"x":2.35,"y":2.7},{"x":2.44,"y":2.7},{"x":2.53,"y":2.7},{"x":2.62,"y":2.7},{"x":2.71,"y":2.7},{"x":2.8,"y":2.7},{"x":2.89,"y":2.7},{"x":2.98,"y":2.7},{"x":3.07,"y":2.7},{"x":3.16,"y":2.7},{"x":3.25,"y":2.7},{"x":3.34,"y":2.7},{"x":3.43,"y":2.7},{"x":3.52,"y":2.7},{"x":3.61,"y":2.7},{"x":3.7,"y":2.7},{"x":3.8,"y":2.7},{"x":3.92,"y":2.69},{"x":4.0,"y":2.7},
{"x":1.82,"y":2.85},{"x":1.8,"y":2.8},{"x":1.89,"y":2.8},{"x":1.98,"y":2.8},{"x":2.07,"y":2.8},{"x":2.16,"y":2.8},{"x":2.25,"y":2.8},{"x":2.34,"y":2.8},{"x":2.43,"y":2.8},{"x":2.52,"y":2.8},{"x":2.61,"y":2.8},{"x":2.7,"y":2.8},{"x":2.79,"y":2.8},{"x":2.88,"y":2.8},{"x":2.97,"y":2.8},{"x":3.06,"y":2.8},{"x":3.15,"y":2.8},{"x":3.24,"y":2.8},{"x":3.33,"y":2.8},{"x":3.42,"y":2.8},{"x":3.51,"y":2.8},{"x":3.6,"y":2.8},{"x":3.69,"y":2.8},{"x":3.78,"y":2.8},{"x":3.87,"y":2.8},
{"x":1.95,"y":2.9},{"x":2.03,"y":2.9},{"x":2.12,"y":2.9},{"x":2.21,"y":2.9},{"x":2.3,"y":2.9},{"x":2.39,"y":2.9},{"x":2.48,"y":2.9},{"x":2.57,"y":2.9},{"x":2.66,"y":2.9},{"x":2.75,"y":2.9},{"x":2.84,"y":2.9},{"x":2.93,"y":2.9},{"x":3.02,"y":2.9},{"x":3.11,"y":2.9},{"x":3.2,"y":2.9},{"x":3.29,"y":2.9},{"x":3.38,"y":2.9},{"x":3.47,"y":2.9},{"x":3.56,"y":2.9},{"x":3.65,"y":2.9},{"x":3.74,"y":2.9},{"x":3.83,"y":2.9},{"x":3.92,"y":2.9},{"x":3.98,"y":2.9},{"x":4.1,"y":2.91},
{"x":2.11,"y":3.04},{"x":2.05,"y":3},{"x":2.14,"y":3},{"x":2.23,"y":3},{"x":2.32,"y":3},{"x":2.41,"y":3},{"x":2.5,"y":3},{"x":2.59,"y":3},{"x":2.68,"y":3},{"x":2.77,"y":3},{"x":2.86,"y":3},{"x":2.95,"y":3},{"x":3.04,"y":3},{"x":3.13,"y":3},{"x":3.22,"y":3},{"x":3.31,"y":3},{"x":3.4,"y":3},{"x":3.49,"y":3},{"x":3.58,"y":3},{"x":3.67,"y":3},{"x":3.76,"y":3},{"x":3.85,"y":3},{"x":3.94,"y":3},{"x":4.03,"y":3},
{"x":2.15,"y":3.1},{"x":2.23,"y":3.1},{"x":2.32,"y":3.1},{"x":2.41,"y":3.1},{"x":2.5,"y":3.1},{"x":2.59,"y":3.1},{"x":2.68,"y":3.1},{"x":2.77,"y":3.1},{"x":2.86,"y":3.1},{"x":2.95,"y":3.1},{"x":3.04,"y":3.1},{"x":3.13,"y":3.1},{"x":3.22,"y":3.1},{"x":3.31,"y":3.1},{"x":3.4,"y":3.1},{"x":3.49,"y":3.1},{"x":3.58,"y":3.1},{"x":3.67,"y":3.1},{"x":3.76,"y":3.1},{"x":3.85,"y":3.1},{"x":3.94,"y":3.1},{"x":4.03,"y":3.1},{"x":4.08,"y":3.1},{"x":4.2,"y":3.1},
{"x":2.3,"y":3.2},{"x":2.39,"y":3.2},{"x":2.48,"y":3.2},{"x":2.57,"y":3.2},{"x":2.66,"y":3.2},{"x":2.75,"y":3.2},{"x":2.84,"y":3.2},{"x":2.93,"y":3.2},{"x":3.02,"y":3.2},{"x":3.11,"y":3.2},{"x":3.2,"y":3.2},{"x":3.29,"y":3.2},{"x":3.38,"y":3.2},{"x":3.47,"y":3.2},{"x":3.56,"y":3.2},{"x":3.65,"y":3.2},{"x":3.74,"y":3.2},{"x":3.83,"y":3.2},{"x":3.92,"y":3.2},{"x":4.01,"y":3.2},{"x":4.1,"y":3.2},
{"x":2.27,"y":3.31},{"x":2.4,"y":3.31},{"x":2.48,"y":3.31},{"x":2.57,"y":3.31},{"x":2.66,"y":3.31},{"x":2.75,"y":3.31},{"x":2.84,"y":3.31},{"x":2.93,"y":3.31},{"x":3.02,"y":3.31},{"x":3.11,"y":3.31},{"x":3.2,"y":3.31},{"x":3.29,"y":3.31},{"x":3.38,"y":3.31},{"x":3.47,"y":3.31},{"x":3.56,"y":3.31},{"x":3.65,"y":3.31},{"x":3.74,"y":3.31},{"x":3.83,"y":3.31},{"x":3.92,"y":3.31},{"x":4.01,"y":3.31},{"x":4.1,"y":3.31},{"x":4.17,"y":3.31},{"x":4.35,"y":3.34},{"x":4.53,"y":3.34},
{"x":2.29,"y":3.39},{"x":2.55,"y":3.4},{"x":2.64,"y":3.4},{"x":2.73,"y":3.4},{"x":2.82,"y":3.4},{"x":2.91,"y":3.4},{"x":3,"y":3.4},{"x":3.09,"y":3.4},{"x":3.18,"y":3.4},{"x":3.27,"y":3.4},{"x":3.36,"y":3.4},{"x":3.45,"y":3.4},{"x":3.54,"y":3.4},{"x":3.63,"y":3.4},{"x":3.72,"y":3.4},{"x":3.81,"y":3.4},{"x":3.9,"y":3.4},{"x":3.99,"y":3.4},{"x":4.08,"y":3.4},{"x":4.17,"y":3.4},{"x":4.22,"y":3.4},
{"x":2.57,"y":3.52},{"x":2.7,"y":3.5},{"x":2.78,"y":3.5},{"x":2.87,"y":3.5},{"x":2.96,"y":3.5},{"x":3.05,"y":3.5},{"x":3.14,"y":3.5},{"x":3.23,"y":3.5},{"x":3.32,"y":3.5},{"x":3.41,"y":3.5},{"x":3.5,"y":3.5},{"x":3.59,"y":3.5},{"x":3.68,"y":3.5},{"x":3.77,"y":3.5},{"x":3.86,"y":3.5},{"x":3.95,"y":3.5},{"x":4.04,"y":3.5},{"x":4.13,"y":3.5},{"x":4.22,"y":3.5},{"x":4.28,"y":3.5},{"x":4.4,"y":3.52},
{"x":2.85,"y":3.6},{"x":2.94,"y":3.6},{"x":3.03,"y":3.6},{"x":3.12,"y":3.6},{"x":3.21,"y":3.6},{"x":3.3,"y":3.6},{"x":3.39,"y":3.6},{"x":3.48,"y":3.6},{"x":3.57,"y":3.6},{"x":3.66,"y":3.6},{"x":3.75,"y":3.6},{"x":3.84,"y":3.6},{"x":3.93,"y":3.6},{"x":4.02,"y":3.6},{"x":4.11,"y":3.6},{"x":4.2,"y":3.6},{"x":4.29,"y":3.6},{"x":4.35,"y":3.6},{"x":4.6,"y":3.7},
{"x":2.95,"y":3.7},{"x":3.03,"y":3.7},{"x":3.12,"y":3.7},{"x":3.21,"y":3.7},{"x":3.3,"y":3.7},{"x":3.39,"y":3.7},{"x":3.48,"y":3.7},{"x":3.57,"y":3.7},{"x":3.66,"y":3.7},{"x":3.75,"y":3.7},{"x":3.84,"y":3.7},{"x":3.93,"y":3.7},{"x":4.02,"y":3.7},{"x":4.11,"y":3.7},{"x":4.2,"y":3.7},{"x":4.29,"y":3.7},{"x":4.38,"y":3.7},{"x":4.42,"y":3.7},
{"x":3.05,"y":3.8},{"x":3.14,"y":3.8},{"x":3.23,"y":3.8},{"x":3.32,"y":3.8},{"x":3.41,"y":3.8},{"x":3.5,"y":3.8},{"x":3.59,"y":3.8},{"x":3.68,"y":3.8},{"x":3.77,"y":3.8},{"x":3.86,"y":3.8},{"x":3.95,"y":3.8},{"x":4.04,"y":3.8},{"x":4.13,"y":3.8},{"x":4.22,"y":3.8},{"x":4.31,"y":3.8},{"x":4.4,"y":3.8},{"x":4.49,"y":3.8},
{"x":2.72,"y":3.92},{"x":3.02,"y":3.95},{"x":3.15,"y":3.9},{"x":3.23,"y":3.9},{"x":3.32,"y":3.9},{"x":3.41,"y":3.9},{"x":3.5,"y":3.9},{"x":3.59,"y":3.9},{"x":3.68,"y":3.9},{"x":3.77,"y":3.9},{"x":3.86,"y":3.9},{"x":3.95,"y":3.9},{"x":4.04,"y":3.9},{"x":4.13,"y":3.9},{"x":4.22,"y":3.9},{"x":4.31,"y":3.9},{"x":4.4,"y":3.9},{"x":4.49,"y":3.9},{"x":4.56,"y":3.9},{"x":4.76,"y":3.95},{"x":4.9,"y":3.92},
{"x":3.3,"y":4},{"x":3.39,"y":4},{"x":3.48,"y":4},{"x":3.57,"y":4},{"x":3.66,"y":4},{"x":3.75,"y":4},{"x":3.84,"y":4},{"x":3.93,"y":4},{"x":4.02,"y":4},{"x":4.11,"y":4},{"x":4.2,"y":4},{"x":4.29,"y":4},{"x":4.38,"y":4},{"x":4.47,"y":4},{"x":4.56,"y":4},{"x":4.6,"y":4},
{"x":3.33,"y":4.16},{"x":3.47,"y":4.16},{"x":3.45,"y":4.1},{"x":3.53,"y":4.1},{"x":3.62,"y":4.1},{"x":3.71,"y":4.1},{"x":3.8,"y":4.1},{"x":3.89,"y":4.1},{"x":3.98,"y":4.1},{"x":4.07,"y":4.1},{"x":4.16,"y":4.1},{"x":4.25,"y":4.1},{"x":4.34,"y":4.1},{"x":4.43,"y":4.1},{"x":4.52,"y":4.1},{"x":4.61,"y":4.1},{"x":4.7,"y":4.1},
{"x":3.6,"y":4.2},{"x":3.69,"y":4.2},{"x":3.78,"y":4.2},{"x":3.87,"y":4.2},{"x":3.96,"y":4.2},{"x":4.05,"y":4.2},{"x":4.14,"y":4.2},{"x":4.23,"y":4.2},{"x":4.32,"y":4.2},{"x":4.41,"y":4.2},{"x":4.5,"y":4.2},{"x":4.59,"y":4.2},{"x":4.66,"y":4.2},{"x":4.92,"y":4.19},{"x":4.78,"y":4.27},
{"x":3.75,"y":4.3},{"x":3.83,"y":4.3},{"x":3.92,"y":4.3},{"x":4.01,"y":4.3},{"x":4.1,"y":4.3},{"x":4.19,"y":4.3},{"x":4.28,"y":4.3},{"x":4.37,"y":4.3},{"x":4.46,"y":4.3},{"x":4.55,"y":4.3},{"x":4.64,"y":4.3},
{"x":3.76,"y":4.39},{"x":3.95,"y":4.4},{"x":4.04,"y":4.4},{"x":4.13,"y":4.4},{"x":4.22,"y":4.4},{"x":4.31,"y":4.4},{"x":4.4,"y":4.4},{"x":4.49,"y":4.4},{"x":4.58,"y":4.4},{"x":4.67,"y":4.4},{"x":4.92,"y":4.38},{"x":5.05,"y":4.38},
{"x":4.1,"y":4.5},{"x":4.2,"y":4.5},{"x":4.3,"y":4.5},{"x":4.4,"y":4.5},{"x":4.52,"y":4.5},{"x":4.62,"y":4.5},{"x":4.7,"y":4.5},{"x":4.5,"y":4.55},
{"x":4.3,"y":4.6},{"x":4.45,"y":4.6},{"x":4.55,"y":4.6},{"x":4.31,"y":4.78},{"x":4.42,"y":4.79},{"x":4.56,"y":4.76},
{"x":4.65,"y":4.88},{"x":4.83,"y":4.86},{"x":4.92,"y":4.94},{"x":5.05,"y":4.86},{"x":5.17,"y":4.88},{"x":5.12,"y":4.78},{"x":4.87,"y":5.12},{"x":4.96,"y":5.2},{"x":4.99,"y":5.28},{"x":5.12,"y":5.28},{"x":5.1,"y":5.11},{"x":5.26,"y":5.12},{"x":5.42,"y":5.2},{"x":5.42,"y":5.11},{"x":5.71,"y":5.28},
{"x":3.61,"y":2.35},{"x":3.54,"y":2.16},{"x":2.81,"y":1.49},{"x":1.75,"y":1.0}
],
"p3": [
{"x":0.81,"y":0.8},{"x":0.83,"y":1.17},{"x":1.06,"y":1.05},{"x":1.55,"y":1.17},{"x":1.65,"y":2.25},{"x":1.83,"y":2.25},{"x":1.88,"y":2.69},{"x":2.24,"y":2.25},{"x":2.39,"y":2.25},{"x":2.57,"y":2.25},{"x":2.96,"y":2.25},{"x":2.42,"y":2.93},{"x":2.66,"y":2.93},{"x":2.95,"y":2.93},{"x":3.11,"y":2.93},{"x":3.16,"y":2.93},{"x":3.38,"y":2.93},{"x":2.53,"y":2.69},{"x":2.59,"y":2.69},{"x":3.18,"y":2.69},{"x":3.32,"y":2.69}
],
"p4": [
{"x":0.8,"y":1.77},{"x":0.83,"y":1.77},{"x":1.06,"y":1.77},{"x":1.53,"y":1.77},{"x":1.65,"y":1.77},{"x":1.82,"y":1.77},{"x":2.23,"y":1.77},{"x":2.38,"y":1.77},{"x":2.55,"y":1.77},{"x":2.95,"y":1.77},{"x":1.88,"y":2.69},{"x":2.52,"y":2.69},{"x":2.57,"y":2.69},{"x":3.17,"y":2.69},{"x":3.3,"y":2.69},{"x":2.41,"y":2.84},{"x":2.65,"y":2.84},{"x":2.94,"y":2.84},{"x":3.09,"y":2.84},{"x":3.15,"y":2.84},{"x":3.36,"y":3.35}
]
},
"columns": 2,
"bounds": "flush",
"spacing": {"row": 112, "column": 98.5},
"concat": [
{"width": 485, "height": 346, "title": {"text": "Progeny"},
 "layer": [
  {"data": {"name": "p1"}, "mark": {"type": "circle", "opacity": 0.78},
   "encoding": {"x": {"field": "x", "type": "quantitative", "scale": {"domain": [-0.3, 6.3], "nice": false, "zero": false}, "axis": {"values": [0,2,4,6], "format": "d", "title": "Mahalanobis matrix\u00a0 (D²)"}},
                "y": {"field": "y", "type": "quantitative", "scale": {"domain": [-0.045, 3.13], "nice": false, "zero": false}, "axis": {"values": [0,1,2,3], "format": "d", "title": "Cophenetic matrix - UPGMA"}}}},
  {"data": {"values": [{"x": 5, "y": 0.25, "t": "CCC = 0.63**"}]}, "mark": {"type": "text"},
   "encoding": {"x": {"field": "x", "type": "quantitative"}, "y": {"field": "y", "type": "quantitative"}, "text": {"field": "t"}}}
 ]},
{"width": 480, "height": 346, "title": {"text": "Progeny"},
 "layer": [
  {"data": {"name": "p2"}, "mark": {"type": "circle", "opacity": 0.85},
   "encoding": {"x": {"field": "x", "type": "quantitative", "scale": {"domain": [-0.3, 6.24], "nice": false, "zero": false}, "axis": {"values": [0,2,4,6], "format": "d", "title": "Mahalanobis matrix\u00a0 (D²)"}},
                "y": {"field": "y", "type": "quantitative", "scale": {"domain": [0, 5.52], "nice": false, "zero": false}, "axis": {"values": [0,1,2,3,4,5], "format": "d", "title": "Cophenetic matrix - Tocher"}}}},
  {"data": {"values": [{"x": 5, "y": 0.23, "t": "CCC = 0.89**"}]}, "mark": {"type": "text"},
   "encoding": {"x": {"field": "x", "type": "quantitative"}, "y": {"field": "y", "type": "quantitative"}, "text": {"field": "t"}}}
 ]},
{"width": 485, "height": 346, "title": {"text": "Provenance"},
 "layer": [
  {"data": {"name": "p3"}, "mark": {"type": "circle"},
   "encoding": {"x": {"field": "x", "type": "quantitative", "scale": {"domain": [-0.3, 6.3], "nice": false, "zero": false}, "axis": {"values": [0,2,4,6], "format": "d", "title": "Mahalanobis matrix\u00a0 (D²)"}},
                "y": {"field": "y", "type": "quantitative", "scale": {"domain": [-0.25, 5.25], "nice": false, "zero": false}, "axis": {"values": [0,1,2,3,4,5], "format": "d", "title": "Cophenetic matrix - UPGMA"}}}},
  {"data": {"values": [{"x": 3, "y": 0.25, "t": "CCC = 0.86**"}]}, "mark": {"type": "text"},
   "encoding": {"x": {"field": "x", "type": "quantitative"}, "y": {"field": "y", "type": "quantitative"}, "text": {"field": "t"}}}
 ]},
{"width": 480, "height": 346, "title": {"text": "Provenance"},
 "layer": [
  {"data": {"name": "p4"}, "mark": {"type": "circle"},
   "encoding": {"x": {"field": "x", "type": "quantitative", "scale": {"domain": [-0.3, 6.24], "nice": false, "zero": false}, "axis": {"values": [0,2,4,6], "format": "d", "title": "Mahalanobis matrix\u00a0 (D²)"}},
                "y": {"field": "y", "type": "quantitative", "scale": {"domain": [-0.25, 5.25], "nice": false, "zero": false}, "axis": {"values": [0,1,2,3,4,5], "format": "d", "title": "Cophenetic matrix - Tocher"}}}},
  {"data": {"values": [{"x": 3, "y": 0.25, "t": "CCC = 0.69*"}]}, "mark": {"type": "text"},
   "encoding": {"x": {"field": "x", "type": "quantitative"}, "y": {"field": "y", "type": "quantitative"}, "text": {"field": "t"}}}
 ]}
]
}
